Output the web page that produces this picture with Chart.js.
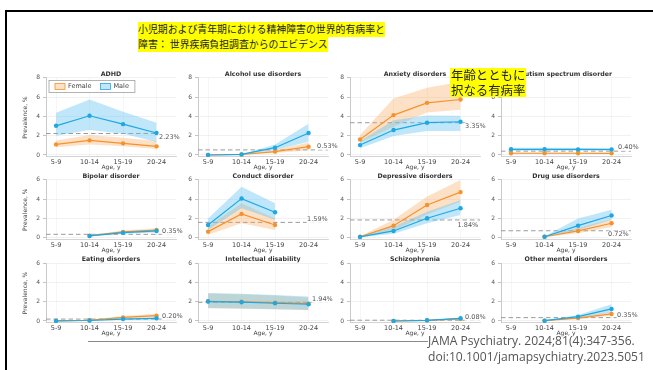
<!DOCTYPE html>
<html>
<head>
<meta charset="utf-8">
<script src="https://cdn.jsdelivr.net/npm/chart.js@4.4.1/dist/chart.umd.min.js"></script>
<style>
  html, body { margin: 0; padding: 0; background: #fff; }
  body { width: 653px; height: 370px; position: relative; overflow: hidden; }
  #frame { position: absolute; left: 5px; top: 10px; width: 700px; height: 400px;
           border-top: 2px solid #000; border-left: 2px solid #000; }
  canvas { position: absolute; }
  .mark { position: absolute; background: #ffff00; color: #222; white-space: nowrap;
          font-family: "Noto Sans CJK JP", sans-serif; z-index: 5; }
  #head1 { left: 138px; top: 22px; height: 15px; font-size: 9.9px; line-height: 15px; }
  #head2 { left: 138px; top: 37px; height: 15px; font-size: 9.9px; line-height: 15px; }
  #note  { left: 450px; top: 68px; font-size: 12.4px; line-height: 14.5px; padding: 0 1px; }
  #rule  { position: absolute; left: 88px; top: 341px; width: 340px; height: 1px; background: #8a8a8a; }
  #source { position: absolute; left: 428px; top: 333px; font-family: "Open Sans", sans-serif;
            font-size: 12.1px; line-height: 15.5px; color: #555; white-space: nowrap; z-index: 5; }
</style>
</head>
<body>
<div id="frame"></div>
<div id="panels"></div>
<div id="rule"></div>
<div class="mark" id="head1">小児期および青年期における精神障害の世界的有病率と</div>
<div class="mark" id="head2">障害： 世界疾病負担調査からのエビデンス</div>
<div class="mark" id="note">年齢とともに<br>択なる有病率</div>
<div id="source">JAMA Psychiatry. 2024;81(4):347-356.<br>doi:10.1001/jamapsychiatry.2023.5051</div>

<script>
// Age groups on the x axis and the tick values on the y axis
const ages = ['5-9', '10-14', '15-19', '20-24'];
const prevalenceTicks = [0, 2, 4, 6, 8];

// One entry per panel, read left to right, top to bottom
const disorders = [
  'ADHD', 'Alcohol use disorders', 'Anxiety disorders', 'Autism spectrum disorder',
  'Bipolar disorder', 'Conduct disorder', 'Depressive disorders', 'Drug use disorders',
  'Eating disorders', 'Intellectual disability', 'Schizophrenia', 'Other mental disorders'
];

// Prevalence (%) by sex, with the lower and upper uncertainty bounds
const femaleRate = [
  [1.10, 1.52, 1.21, 0.90], [0.00, 0.05, 0.35, 0.86], [1.62, 4.14, 5.41, 5.76], [0.18, 0.18, 0.18, 0.17],
  [null, 0.20, 0.60, 0.80], [0.63, 2.47, 1.32, null], [0.10, 1.25, 3.40, 4.73], [null, 0.10, 0.70, 1.50],
  [0.02, 0.08, 0.38, 0.55], [2.05, 2.00, 1.90, 1.80], [null, 0.00, 0.06, 0.22], [null, 0.03, 0.30, 0.73]
];
const femaleLow = [
  [0.80, 1.10, 0.90, 0.62], [0.00, 0.03, 0.20, 0.50], [1.30, 2.93, 4.40, 4.70], [0.12, 0.12, 0.12, 0.11],
  [null, 0.12, 0.45, 0.62], [0.30, 1.50, 0.80, null], [0.05, 0.75, 2.40, 3.75], [null, 0.06, 0.45, 1.10],
  [0.01, 0.05, 0.25, 0.38], [1.32, 1.28, 1.22, 1.15], [null, 0.00, 0.04, 0.15], [null, 0.02, 0.20, 0.55]
];
const femaleHigh = [
  [1.50, 2.07, 1.80, 1.45], [0.01, 0.08, 0.55, 1.30], [2.07, 5.87, 6.97, 7.60], [0.25, 0.25, 0.25, 0.24],
  [null, 0.28, 0.75, 0.98], [1.15, 3.58, 2.00, null], [0.15, 1.85, 4.27, 6.00], [null, 0.15, 1.00, 1.95],
  [0.03, 0.12, 0.52, 0.75], [2.85, 2.78, 2.65, 2.45], [null, 0.01, 0.09, 0.30], [null, 0.05, 0.42, 0.95]
];
const maleRate = [
  [3.03, 4.07, 3.20, 2.28], [0.00, 0.06, 0.76, 2.28], [1.03, 2.59, 3.35, 3.45], [0.59, 0.59, 0.58, 0.57],
  [null, 0.18, 0.52, 0.70], [1.32, 4.06, 2.64, null], [0.08, 0.70, 2.02, 3.06], [null, 0.10, 1.25, 2.30],
  [0.01, 0.05, 0.20, 0.28], [2.02, 1.95, 1.84, 1.74], [null, 0.00, 0.07, 0.28], [null, 0.03, 0.45, 1.25]
];
const maleLow = [
  [2.00, 2.60, 2.20, 1.35], [0.00, 0.04, 0.52, 1.38], [0.70, 1.97, 2.48, 2.48], [0.45, 0.45, 0.44, 0.43],
  [null, 0.12, 0.40, 0.55], [0.80, 3.06, 1.85, null], [0.04, 0.40, 1.50, 2.36], [null, 0.06, 0.80, 1.85],
  [0.00, 0.03, 0.13, 0.18], [1.35, 1.30, 1.22, 1.15], [null, 0.00, 0.05, 0.19], [null, 0.02, 0.30, 0.90]
];
const maleHigh = [
  [4.38, 5.77, 4.48, 3.35], [0.01, 0.09, 1.10, 3.25], [1.45, 3.60, 4.10, 4.07], [0.74, 0.74, 0.73, 0.72],
  [null, 0.25, 0.65, 0.86], [2.00, 5.30, 3.58, null], [0.12, 1.15, 2.70, 3.90], [null, 0.15, 2.00, 2.90],
  [0.02, 0.07, 0.28, 0.40], [2.90, 2.82, 2.70, 2.55], [null, 0.01, 0.10, 0.36], [null, 0.05, 0.62, 1.74]
];
// Overall prevalence for all ages and both sexes (dashed reference)
const overallRate = [2.23, 0.53, 3.35, 0.40, 0.35, 1.59, 1.84, 0.72, 0.20, 1.94, 0.08, 0.35];

// ---- layout of the 4 x 3 grid ----
const colAxis = [46, 198, 350, 501];     // left edge of each column's plot area
const rowZero = [155, 237.7, 321];       // pixel row of y = 0 in each row of panels
const rowMax = [8, 6, 6];
const PX_PER_UNIT = 9.63;
const Y_MIN = -0.2, X_MIN = -0.3, X_MAX = 3.58, PLOT_W = 130;
const LEFT_W = 36, RIGHT_PAD = 36, TITLE_H = 12, XAXIS_H = 17;
// where each overall-rate label sits, relative to the last age group and the dashed line
const labelDx = [2.5, 8.5, 4.5, 6.5, 5.5, -1.5, -3, -3.5, 5.5, 3.5, 4.5, 5.5];
const labelDy = [3.3, -4, 3.3, -4.3, -3.3, -3.3, 5.7, 3.7, -3, -3.3, -3.3, -2.7];

const FONT = '"DejaVu Sans", sans-serif';
const FEMALE = '#f4922e', MALE = '#1ea7e1';
const FEMALE_BAND = 'rgba(248,170,95,0.35)', MALE_BAND = 'rgba(95,195,240,0.40)';

Chart.defaults.font.family = FONT;

const overallMarker = {
  id: 'overallMarker',
  beforeDatasetsDraw(chart, args, opts) {
    const { ctx, chartArea: a, scales: { y } } = chart;
    const py = y.getPixelForValue(opts.value);
    ctx.save();
    ctx.strokeStyle = '#9b9b9b';
    ctx.lineWidth = 1;
    ctx.setLineDash([4.5, 3]);
    ctx.beginPath();
    ctx.moveTo(a.left, py);
    ctx.lineTo(a.right, py);
    ctx.stroke();
    ctx.restore();
  },
  afterDatasetsDraw(chart, args, opts) {
    const { ctx, scales: { x, y } } = chart;
    const text = opts.value.toFixed(2) + '%';
    const tx = x.getPixelForValue(ages.length - 1) + opts.dx;
    const ty = y.getPixelForValue(opts.value) + opts.dy;
    ctx.save();
    ctx.font = '6.5px ' + FONT;
    const w = ctx.measureText(text).width;
    ctx.fillStyle = '#fff';
    ctx.fillRect(tx - 0.5, ty - 3.8, w + 1, 7.6);
    ctx.fillStyle = '#555';
    ctx.textBaseline = 'middle';
    ctx.fillText(text, tx, ty);
    ctx.restore();
  }
};

const sexKey = {
  id: 'sexKey',
  afterDraw(chart, args, opts) {
    if (!opts.display) return;
    const { ctx, chartArea: a } = chart;
    const items = chart.data.datasets.filter(d => d.keyFill);
    ctx.save();
    ctx.font = '6.5px ' + FONT;
    const x0 = a.left + 3, y0 = a.top + 2.5, h = 12;
    let width = 6;
    items.forEach((d, k) => { width += 13 + ctx.measureText(d.label).width + (k < items.length - 1 ? 9 : 6); });
    ctx.fillStyle = '#fff';
    ctx.fillRect(x0, y0, width, h);
    ctx.strokeStyle = '#a0a0a0';
    ctx.lineWidth = 0.8;
    ctx.strokeRect(x0, y0, width, h);
    let x = x0 + 6;
    items.forEach(d => {
      ctx.fillStyle = d.keyFill;
      ctx.fillRect(x, y0 + 3, 10, 6);
      ctx.strokeStyle = d.borderColor;
      ctx.lineWidth = 0.8;
      ctx.strokeRect(x, y0 + 3, 10, 6);
      ctx.fillStyle = '#444';
      ctx.textBaseline = 'middle';
      ctx.fillText(d.label, x + 13, y0 + h / 2 + 0.3);
      x += 13 + ctx.measureText(d.label).width + 9;
    });
    ctx.restore();
  }
};

const asPoints = arr => arr.map((v, k) => ({ x: k, y: v }));

function drawPanel(i) {
  const col = i % 4, row = Math.floor(i / 4);
  const axisX = colAxis[col], zeroY = rowZero[row], yMax = rowMax[row];
  const plotTop = zeroY - yMax * PX_PER_UNIT;
  const plotBottom = zeroY - Y_MIN * PX_PER_UNIT;
  const left = axisX - LEFT_W;
  const top = Math.floor(plotTop - TITLE_H);
  const padTop = plotTop - TITLE_H - top;
  const needH = plotBottom + XAXIS_H - top;
  const height = Math.ceil(needH);
  const padBottom = height - needH;
  const width = LEFT_W + PLOT_W + RIGHT_PAD;

  const cv = document.createElement('canvas');
  cv.width = width; cv.height = height;
  cv.style.left = left + 'px'; cv.style.top = top + 'px';
  cv.style.width = width + 'px'; cv.style.height = height + 'px';
  document.getElementById('panels').appendChild(cv);

  const lineStyle = (color) => ({
    borderColor: color, backgroundColor: color, pointBackgroundColor: color,
    borderWidth: 1.2, pointRadius: 2.2, pointBorderWidth: 0, fill: false, tension: 0
  });
  const bandStyle = { borderWidth: 0, borderColor: 'rgba(0,0,0,0)', pointRadius: 0, tension: 0 };

  new Chart(cv, {
    type: 'line',
    data: {
      datasets: [
        { label: 'Female', data: asPoints(femaleRate[i]), order: 1, keyFill: '#fde1c4', ...lineStyle(FEMALE) },
        { label: 'Male', data: asPoints(maleRate[i]), order: 0, keyFill: '#c2e6f7', ...lineStyle(MALE) },
        { label: 'Female upper', data: asPoints(femaleHigh[i]), order: 3, fill: '+1', backgroundColor: FEMALE_BAND, ...bandStyle },
        { label: 'Female lower', data: asPoints(femaleLow[i]), order: 3, fill: false, ...bandStyle },
        { label: 'Male upper', data: asPoints(maleHigh[i]), order: 2, fill: '+1', backgroundColor: MALE_BAND, ...bandStyle },
        { label: 'Male lower', data: asPoints(maleLow[i]), order: 2, fill: false, ...bandStyle }
      ]
    },
    options: {
      responsive: false,
      animation: false,
      events: [],
      layout: { autoPadding: false, padding: { left: 0, right: RIGHT_PAD, top: padTop, bottom: padBottom } },
      scales: {
        x: {
          type: 'linear', min: X_MIN, max: X_MAX,
          afterBuildTicks: s => { s.ticks = ages.map((_, k) => ({ value: k })); },
          afterFit: s => { s.height = XAXIS_H; },
          ticks: { callback: v => ages[v], font: { size: 6.5 }, color: '#444', padding: 1.5, maxRotation: 0, autoSkip: false },
          grid: { color: '#f0f0f0', lineWidth: 0.6, drawTicks: false },
          border: { display: true, color: '#c8c8c8', width: 0.8 },
          title: { display: true, text: 'Age, y', font: { size: 6 }, color: '#444', padding: { top: 0, bottom: 3 } }
        },
        y: {
          min: Y_MIN, max: yMax,
          afterBuildTicks: s => { s.ticks = prevalenceTicks.filter(v => v <= yMax).map(v => ({ value: v })); },
          afterFit: s => { s.width = LEFT_W; },
          ticks: { font: { size: 6 }, color: '#555', padding: 3 },
          grid: { color: '#e8e8e8', lineWidth: 0.6, tickLength: 3, tickColor: '#9a9a9a' },
          border: { display: true, color: '#bdbdbd', width: 0.8 },
          title: { display: col === 0, text: 'Prevalence, %', font: { size: 6 }, color: '#444', padding: { top: 11.4, bottom: 0 } }
        }
      },
      plugins: {
        legend: { display: false },
        tooltip: { enabled: false },
        title: {
          display: true, text: disorders[i], fullSize: false, color: '#333',
          font: { size: 6.3, weight: 'bold' }, padding: { top: 4.2, bottom: 0.2 }
        },
        overallMarker: { value: overallRate[i], dx: labelDx[i], dy: labelDy[i] },
        sexKey: { display: i === 0 }
      }
    },
    plugins: [overallMarker, sexKey]
  });
}

disorders.forEach((_, i) => drawPanel(i));
</script>
</body>
</html>
